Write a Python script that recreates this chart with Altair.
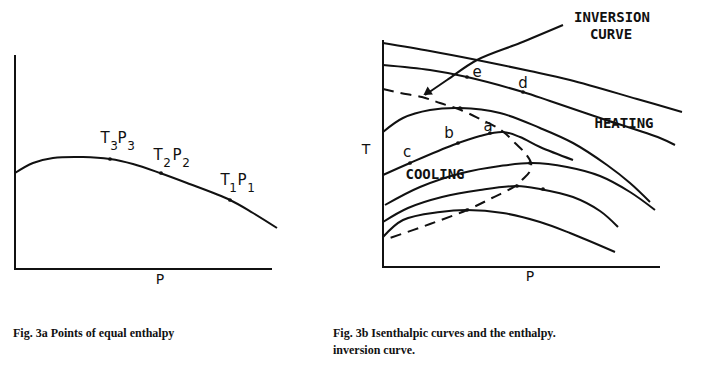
import altair as alt
import pandas as pd

# ---------------- Fig. 3a : points of equal enthalpy ----------------
A_AXIS_X = [15, 15, 272]
A_AXIS_Y = [55, 269, 269]
A_CURVE_X = [15, 33, 53, 83, 110, 133, 160, 187, 230, 253, 277]
A_CURVE_Y = [173, 163, 158, 157, 159, 164, 173, 183, 200, 213, 228]
A_POINT_X = [110, 161, 230]
A_POINT_Y = [159, 173, 200]
# labels T3P3, T2P2, T1P1 : letters and their subscripts
A_MAIN = ["T", "P", "T", "P", "T", "P"]
A_MAIN_X = [105, 122, 158, 177, 225, 242]
A_MAIN_Y = [138, 138, 155, 155, 180, 180]
A_SUB = ["3", "3", "2", "2", "1", "1"]
A_SUB_X = [114, 131, 167, 186, 233, 251]
A_SUB_Y = [146, 146, 163, 163, 188, 188]

# ---------------- Fig. 3b : isenthalpic curves ----------------
B_AXIS_X = [383, 383, 660]
B_AXIS_Y = [40, 267, 267]
H1_X = [383, 430, 477, 530, 570, 637, 682]
H1_Y = [43, 51, 60, 71, 80, 99, 112]
H2_X = [383, 430, 467, 523, 550, 603, 660, 675]
H2_Y = [65, 70, 77, 92, 101, 119, 138, 145]
H3_X = [383, 403, 430, 460, 500, 540, 573, 607, 630, 650]
H3_Y = [132, 118, 110, 108, 113, 128, 143, 165, 183, 202]
H4_X = [383, 410, 453, 480, 503, 520, 540, 573]
H4_Y = [175, 163, 145, 136, 132, 137, 147, 160]
H5_X = [385, 420, 462, 500, 532, 567, 600, 630, 655]
H5_Y = [205, 187, 173, 166, 163, 167, 176, 192, 210]
H6_X = [383, 408, 442, 480, 517, 540, 573, 600, 618]
H6_Y = [222, 208, 197, 190, 186, 189, 197, 211, 227]
H7_X = [383, 403, 440, 467, 503, 540, 570, 615]
H7_Y = [237, 220, 212, 210, 213, 222, 233, 252]
INV_X = [383, 400, 422, 440, 461, 482, 498, 506, 515, 525, 531, 530, 523, 517, 492, 467, 430, 390]
INV_Y = [89, 93, 97, 103, 110, 120, 128, 134, 143, 153, 163, 171, 179, 185, 198, 210, 224, 238]
ARROW_X = [563, 520, 477, 447, 425]
ARROW_Y = [25, 43, 60, 80, 95]
ARROW_HEAD_X = [428]
ARROW_HEAD_Y = [92]
B_MARK_X = [467, 523, 460, 458, 410, 490, 530, 517, 543, 467]
B_MARK_Y = [77, 92, 108, 143, 163, 133, 163, 186, 189, 210]
LETTERS = ["e", "d", "a", "b", "c"]
LETTER_X = [477, 523, 488, 449, 407]
LETTER_Y = [72, 83, 126, 133, 152]
WORDS = ["COOLING", "HEATING", "INVERSION", "CURVE"]
WORD_X = [435, 624, 612, 611]
WORD_Y = [175, 124, 18, 35]
AXIS_TITLES = ["P", "P", "T"]
AXIS_TITLE_X = [160, 530, 366]
AXIS_TITLE_Y = [280, 277, 150]
CAPTIONS = ["Fig. 3a Points of equal enthalpy",
            "Fig. 3b Isenthalpic curves and the enthalpy.",
            "inversion curve."]
CAPTION_X = [13, 333, 333]
CAPTION_Y = [333, 333, 350]


def path(name, xs, ys):
    return [{"s": name, "i": i, "x": x, "y": y} for i, (x, y) in enumerate(zip(xs, ys))]


axis_rows = path("axA", A_AXIS_X, A_AXIS_Y) + path("axB", B_AXIS_X, B_AXIS_Y)
curve_rows = path("curveA", A_CURVE_X, A_CURVE_Y)
for name, xs, ys in [("h1", H1_X, H1_Y), ("h2", H2_X, H2_Y), ("h3", H3_X, H3_Y),
                     ("h4", H4_X, H4_Y), ("h5", H5_X, H5_Y), ("h6", H6_X, H6_Y),
                     ("h7", H7_X, H7_Y), ("arrow", ARROW_X, ARROW_Y)]:
    curve_rows += path(name, xs, ys)
inv_rows = path("inv", INV_X, INV_Y)

X = alt.X("x:Q", scale=alt.Scale(domain=[8, 697], nice=False, zero=False), axis=None)
Y = alt.Y("y:Q", scale=alt.Scale(domain=[8, 376], nice=False, zero=False, reverse=True), axis=None)
INK = "#111111"

axes = alt.Chart(pd.DataFrame(axis_rows)).mark_line(color=INK, strokeWidth=2).encode(
    x=X, y=Y, detail="s:N", order="i:Q")
curves = alt.Chart(pd.DataFrame(curve_rows)).mark_line(
    color=INK, strokeWidth=2, interpolate="catmull-rom").encode(
    x=X, y=Y, detail="s:N", order="i:Q")
inv = alt.Chart(pd.DataFrame(inv_rows)).mark_line(
    color=INK, strokeWidth=2, strokeDash=[11, 7], interpolate="catmull-rom").encode(
    x=X, y=Y, detail="s:N", order="i:Q")
head = alt.Chart(pd.DataFrame({"x": ARROW_HEAD_X, "y": ARROW_HEAD_Y})).mark_point(
    shape="triangle", filled=True, color=INK, size=90, angle=236, opacity=1).encode(x=X, y=Y)
dots = alt.Chart(pd.DataFrame({"x": A_POINT_X + B_MARK_X, "y": A_POINT_Y + B_MARK_Y})).mark_point(
    shape="circle", filled=True, color=INK, size=14, opacity=1).encode(x=X, y=Y)

lblA = alt.Chart(pd.DataFrame({"x": A_MAIN_X, "y": A_MAIN_Y, "t": A_MAIN})).mark_text(
    font="DejaVu Sans", fontSize=15, color=INK).encode(x=X, y=Y, text="t:N")
subA = alt.Chart(pd.DataFrame({"x": A_SUB_X, "y": A_SUB_Y, "t": A_SUB})).mark_text(
    font="DejaVu Sans", fontSize=12, color=INK).encode(x=X, y=Y, text="t:N")
letters = alt.Chart(pd.DataFrame({"x": LETTER_X, "y": LETTER_Y, "t": LETTERS})).mark_text(
    font="DejaVu Sans", fontSize=15, color=INK).encode(x=X, y=Y, text="t:N")
words = alt.Chart(pd.DataFrame({"x": WORD_X, "y": WORD_Y, "t": WORDS})).mark_text(
    font="DejaVu Sans Mono", fontWeight="bold", fontSize=14, color=INK).encode(x=X, y=Y, text="t:N")
titles = alt.Chart(pd.DataFrame({"x": AXIS_TITLE_X, "y": AXIS_TITLE_Y, "t": AXIS_TITLES})).mark_text(
    font="DejaVu Sans", fontSize=14, color=INK).encode(x=X, y=Y, text="t:N")
caps = alt.Chart(pd.DataFrame({"x": CAPTION_X, "y": CAPTION_Y, "t": CAPTIONS})).mark_text(
    font="Liberation Serif", fontWeight="bold", fontSize=12, color=INK, align="left").encode(
    x=X, y=Y, text="t:N")

chart = alt.layer(axes, curves, inv, head, dots, lblA, subA, letters, words, titles, caps).properties(
    width=689, height=368, autosize=alt.AutoSizeParams(type="none"), padding=0,
    background="white"
).configure_view(stroke=None)

chart.save("out.html", embed_options={"renderer": "svg", "actions": False})
